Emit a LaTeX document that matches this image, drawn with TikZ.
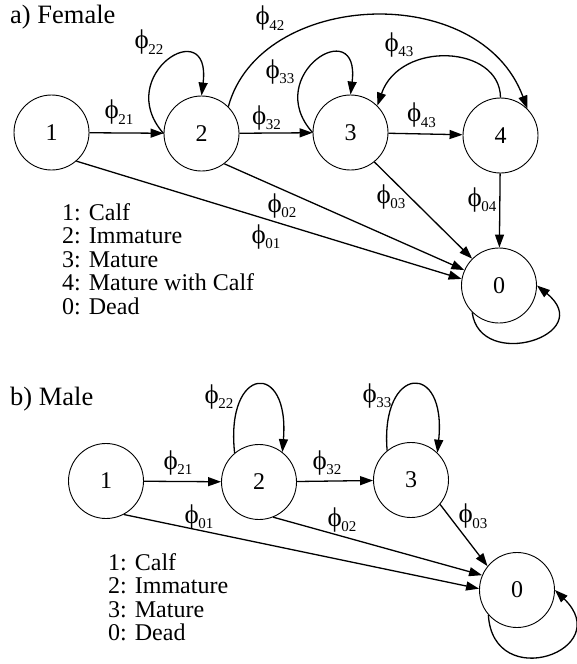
\documentclass[tikz,border=0pt]{standalone}
\usepackage{fontspec}
\setmainfont{Liberation Serif}
\usetikzlibrary{arrows.meta}
\newcommand{\ph}[1]{ϕ\kern-0.5pt\raisebox{-5.5pt}{\fontsize{15}{15}\selectfont #1}}
\begin{document}
\begin{tikzpicture}[x=1pt,y=-1pt,
  state/.style={circle,draw,line width=0.9pt,minimum size=75pt,inner sep=0pt,font=\fontsize{24}{24}\selectfont},
  arr/.style={line width=1.3pt,-{Triangle[length=13pt,width=9pt]}},
  lab/.style={inner sep=0pt,font=\fontsize{27}{27}\selectfont},
  legend/.style={align=left,inner sep=0pt,anchor=north west,font=\fontsize{24}{23.5}\selectfont},
  title/.style={anchor=base west,inner sep=0pt,font=\fontsize{26.5}{26.5}\selectfont}]
\useasboundingbox (0,0) rectangle (577,664);
% ---------- Female ----------
\node[title] (tf) at (10,23.3) {a) Female};
\node[state] (f1) at (51.5,132.5) {1};
\node[state] (f2) at (201.5,133.5) {2};
\node[state] (f3) at (350.5,132.5) {3};
\node[state] (f4) at (500.5,135.5) {4};
\node[state] (f0) at (499,285.5) {0};
\draw[arr] (f1) -- (f2);
\draw[arr] (f2) -- (f3);
\draw[arr] (f3) -- (f4);
\draw[arr] (f4) -- (f0);
\draw[arr] (f1.-49) -- (f0.170);
\draw[arr] (f2.-53) -- (f0.156);
\draw[arr] (f3.-51) -- (f0.135);
\draw[arr] (f2.west) .. controls (112,75) and (212,12) .. (f2.north);
\draw[arr] (f3.west) .. controls (261,75) and (361,12) .. (f3.north);
\draw[arr] (f4.north) .. controls (500,45) and (400,40) .. (f3.45);
\draw[arr] (f2.45) .. controls (260,-10) and (480,-20) .. (f4.45);
\draw[arr] (f0.-135) .. controls (480,372) and (598,335) .. (f0.east);
\node[lab] (lf21) at (119,112.5) {\ph{21}};
\node[lab] (lf22) at (149,42.5) {\ph{22}};
\node[lab] (lf42) at (270,18.5) {\ph{42}};
\node[lab] (lf33) at (280,72) {\ph{33}};
\node[lab] (lf32) at (266.5,118) {\ph{32}};
\node[lab] (lf43a) at (421.5,115.5) {\ph{43}};
\node[lab] (lf43b) at (399,45) {\ph{43}};
\node[lab] (lf02) at (282,206) {\ph{02}};
\node[lab] (lf01) at (266,237) {\ph{01}};
\node[lab] (lf03) at (391,197) {\ph{03}};
\node[lab] (lf04) at (482,200) {\ph{04}};
\node[legend] (legf) at (62,203) {1: Calf\\2: Immature\\3: Mature\\4: Mature with Calf\\0: Dead};
% ---------- Male ----------
\node[title] (tm) at (10,405) {b) Male};
\node[state] (m1) at (106,481) {1};
\node[state] (m2) at (259,482) {2};
\node[state] (m3) at (411,480) {3};
\node[state] (m0) at (517,590) {0};
\draw[arr] (m1) -- (m2);
\draw[arr] (m2) -- (m3);
\draw[arr] (m1.-62) -- (m0.178);
\draw[arr] (m2.-68) -- (m0.157);
\draw[arr] (m3.-40) -- (m0.141);
\draw[arr] (m2.130) .. controls (225,365) and (290,360) .. (m2.52);
\draw[arr] (m3.129) .. controls (380,365) and (447,360) .. (m3.46);
\draw[arr] (m0.-139) .. controls (493,694) and (617,650) .. (m0.east);
\node[lab] (lm21) at (178,463) {\ph{21}};
\node[lab] (lm22) at (219,397) {\ph{22}};
\node[lab] (lm32) at (327,463) {\ph{32}};
\node[lab] (lm33) at (377,396) {\ph{33}};
\node[lab] (lm01) at (199,517) {\ph{01}};
\node[lab] (lm02) at (342,520) {\ph{02}};
\node[lab] (lm03) at (473,516) {\ph{03}};
\node[legend] (legm) at (108,553) {1: Calf\\2: Immature\\3: Mature\\0: Dead};
\end{tikzpicture}
\end{document}
